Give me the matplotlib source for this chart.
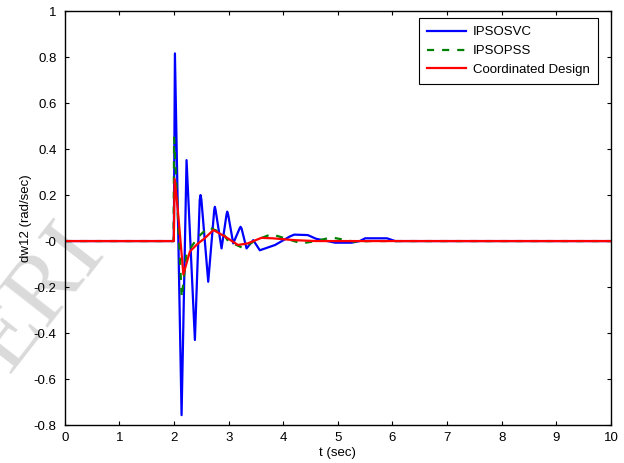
import numpy as np
import matplotlib.pyplot as plt

# speed deviation dw12 after the disturbance at t = 2 s
t_svc = [0, 1.995, 2.015, 2.137, 2.228, 2.381, 2.47, 2.485, 2.50, 2.625, 2.735,
         2.747, 2.76, 2.869, 2.96, 2.973, 2.99, 3.083, 3.20, 3.217, 3.235,
         3.327, 3.45, 3.57, 3.85, 4.12, 4.2, 4.45, 4.6, 4.95, 5.25, 5.4,
         5.5, 5.9, 6.05, 7.0, 8.5, 10.0]
v_svc = [0, 0, 0.816, -0.757, 0.352, -0.43, 0.18, 0.2, 0.18, -0.177, 0.135,
         0.149, 0.135, -0.032, 0.115, 0.128, 0.115, -0.01, 0.055, 0.062, 0.055,
         -0.032, 0.004, -0.04, -0.017, 0.02, 0.028, 0.026, 0.01, -0.007, -0.007, 0.0,
         0.012, 0.012, 0.0, 0.0, 0.0, 0.0]

t_pss = [0, 1.99, 2.0, 2.14, 2.23, 2.3, 2.45, 2.63, 2.9, 2.99, 3.26,
         3.5, 3.78, 4.06, 4.33, 4.6, 4.88, 5.31, 5.6, 6.5, 10.0]
v_pss = [0, 0, 0.45, -0.245, -0.05, -0.03, 0.02, 0.06, 0.033, 0.0, -0.03,
         0.004, 0.03, 0.01, -0.01, 0.0, 0.016, -0.003, 0.0, 0.0, 0.0]

t_cd = [0, 1.995, 2.01, 2.07, 2.17, 2.29, 2.44, 2.55, 2.72, 2.93, 3.17,
        3.35, 3.6, 3.81, 4.2, 4.6, 10.0]
v_cd = [0, 0, 0.27, 0.13, -0.145, -0.045, -0.01, 0.01, 0.048, 0.02, -0.017,
        -0.01, 0.014, 0.012, 0.004, 0.0, 0.0]

x_ticks = np.arange(0, 11, 1)
y_ticks = np.round(np.arange(-0.8, 1.01, 0.2), 1)

plt.rcParams['font.family'] = ['Liberation Sans', 'DejaVu Sans']
plt.rcParams['font.size'] = 9.5

fig = plt.figure(figsize=(6.24, 4.63), dpi=100)
ax = fig.add_axes([0.104, 0.082, 0.875, 0.894])
ax.patch.set_alpha(0)

ax.plot(t_svc, v_svc, color='#0000ff', lw=1.6, label='IPSOSVC')
ax.plot(t_pss, v_pss, color='#008000', lw=1.6, ls=(0, (3.2, 3.6)), label='IPSOPSS')
ax.plot(t_cd, v_cd, color='#ff0000', lw=1.6, label='Coordinated Design')

ax.set_xlim(0, 10)
ax.set_ylim(-0.8, 1)
ax.set_xticks(x_ticks)
ax.set_yticks(y_ticks)
ax.set_yticklabels(['%g' % v for v in y_ticks])
ax.tick_params(direction='in', length=3, width=0.8, top=True, right=True)
ax.tick_params(axis='y', pad=6)
ax.tick_params(axis='x', pad=5)
for s in ax.spines.values():
    s.set_linewidth(1.0)

ax.set_xlabel('t (sec)', labelpad=2)
ax.set_ylabel('dw12 (rad/sec)', labelpad=1)

leg = ax.legend(loc='upper right', bbox_to_anchor=(0.976, 0.983),
                borderaxespad=0, fancybox=False, edgecolor='black',
                framealpha=1, borderpad=0.6, handlelength=3.0,
                labelspacing=0.5, handletextpad=0.5)
leg.get_frame().set_linewidth(0.8)

# faint publisher watermark across the lower left, under the plot
fig.text(0.062, 0.355, 'ERI', family='Liberation Serif', fontsize=70,
         color='#dadada', rotation=52, ha='center', va='center', zorder=-1)

fig.savefig('out.png', dpi=100)
